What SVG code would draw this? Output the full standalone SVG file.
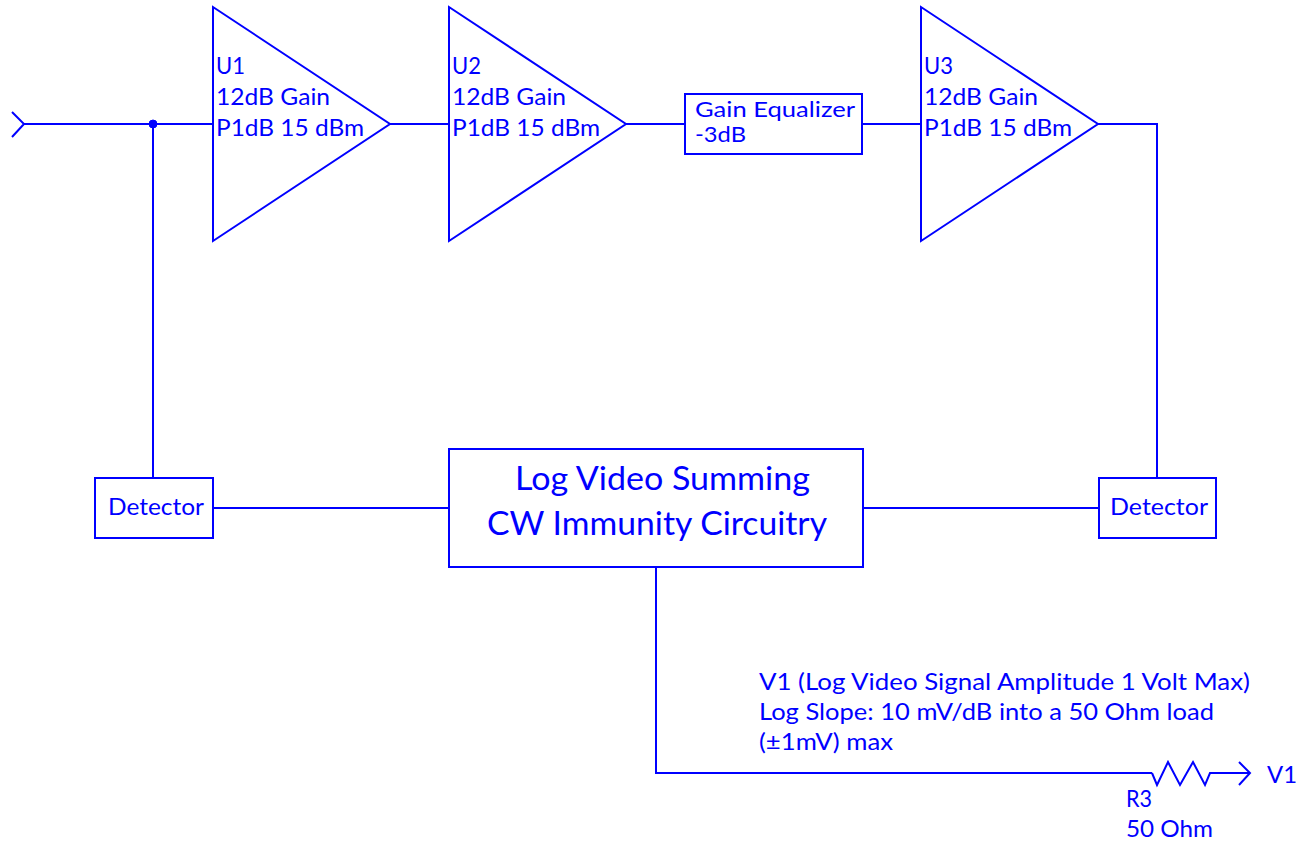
<svg xmlns="http://www.w3.org/2000/svg" width="1299" height="844" viewBox="0 0 1299 844">
<style>
.w{fill:none;stroke:#0000FF;stroke-width:2;stroke-linejoin:miter}
.b{fill:#FFFFFF;stroke:#0000FF;stroke-width:2}
.t{font-family:Lato,"Liberation Sans",sans-serif;font-size:23.5px;fill:#0000FF}
.ts{font-family:Lato,"Liberation Sans",sans-serif;font-size:21px;fill:#0000FF}
.tb{font-family:Lato,"Liberation Sans",sans-serif;font-size:33.5px;fill:#0000FF}
</style>
<rect width="1299" height="844" fill="#FFFFFF"/>
<g id="connectors">
<polyline class="w" points="12,112 24,124 12,137"/>
<line class="w" x1="24" y1="124" x2="213" y2="124"/>
<line class="w" x1="153" y1="124" x2="153" y2="478"/>
<circle cx="153" cy="124" r="4" fill="#0000FF" stroke="#0000FF" stroke-width="1"/>
<line class="w" x1="390" y1="124" x2="449" y2="124"/>
<line class="w" x1="626" y1="124" x2="685" y2="124"/>
<line class="w" x1="862" y1="124" x2="921" y2="124"/>
<polyline class="w" points="1098,124 1157,124 1157,478"/>
<line class="w" x1="213" y1="508" x2="449" y2="508"/>
<line class="w" x1="863" y1="508" x2="1099" y2="508"/>
<polyline class="w" points="656,567 656,773 1152,773"/>
</g>
<g id="U1">
<polygon class="b" points="213,7 213,241 390,124"/>
<text class="t" x="216" y="74" textLength="29" lengthAdjust="spacingAndGlyphs">U1</text>
<text class="t" x="216" y="105" textLength="114" lengthAdjust="spacingAndGlyphs">12dB Gain</text>
<text class="t" x="216" y="136" textLength="148" lengthAdjust="spacingAndGlyphs">P1dB 15 dBm</text>
</g>
<g id="U2">
<polygon class="b" points="449,7 449,241 626,124"/>
<text class="t" x="452" y="74" textLength="29" lengthAdjust="spacingAndGlyphs">U2</text>
<text class="t" x="452" y="105" textLength="114" lengthAdjust="spacingAndGlyphs">12dB Gain</text>
<text class="t" x="452" y="136" textLength="148" lengthAdjust="spacingAndGlyphs">P1dB 15 dBm</text>
</g>
<g id="gain-equalizer">
<rect class="b" x="685" y="94" width="177" height="60"/>
<text class="ts" x="695" y="117" textLength="160" lengthAdjust="spacingAndGlyphs">Gain Equalizer</text>
<text class="ts" x="695" y="142" textLength="51" lengthAdjust="spacingAndGlyphs">-3dB</text>
</g>
<g id="U3">
<polygon class="b" points="921,7 921,241 1098,124"/>
<text class="t" x="924" y="74" textLength="29" lengthAdjust="spacingAndGlyphs">U3</text>
<text class="t" x="924" y="105" textLength="114" lengthAdjust="spacingAndGlyphs">12dB Gain</text>
<text class="t" x="924" y="136" textLength="148" lengthAdjust="spacingAndGlyphs">P1dB 15 dBm</text>
</g>
<g id="detector-left">
<rect class="b" x="95" y="478" width="118" height="60"/>
<text class="t" x="108" y="515" textLength="96" lengthAdjust="spacingAndGlyphs">Detector</text>
</g>
<g id="detector-right">
<rect class="b" x="1099" y="478" width="117" height="60"/>
<text class="t" x="1110" y="515" textLength="98" lengthAdjust="spacingAndGlyphs">Detector</text>
</g>
<g id="log-video">
<rect class="b" x="449" y="449" width="414" height="118"/>
<text class="tb" x="515" y="490" textLength="295" lengthAdjust="spacingAndGlyphs">Log Video Summing</text>
<text class="tb" x="487" y="535" textLength="340" lengthAdjust="spacingAndGlyphs">CW Immunity Circuitry</text>
</g>
<g id="output-note">
<text class="t" x="759" y="690" textLength="491" lengthAdjust="spacingAndGlyphs">V1 (Log Video Signal Amplitude 1 Volt Max)</text>
<text class="t" x="759" y="720" textLength="455" lengthAdjust="spacingAndGlyphs">Log Slope: 10 mV/dB into a 50 Ohm load</text>
<text class="t" x="759" y="750" textLength="134" lengthAdjust="spacingAndGlyphs">(±1mV) max</text>
</g>
<g id="R3">
<polyline class="w" points="1152,773 1157,785 1168,762 1180,785 1193,762 1205,785 1210,773 1250,773"/>
<text class="t" x="1126" y="807" textLength="26" lengthAdjust="spacingAndGlyphs">R3</text>
<text class="t" x="1126" y="837" textLength="87" lengthAdjust="spacingAndGlyphs">50 Ohm</text>
</g>
<g id="V1">
<polyline class="w" points="1239,762 1250,773 1239,785"/>
<text class="t" x="1267" y="783" textLength="30" lengthAdjust="spacingAndGlyphs">V1</text>
</g>
</svg>
